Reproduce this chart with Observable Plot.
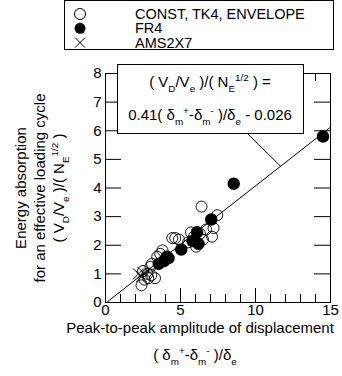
<!DOCTYPE html>
<html><head><meta charset="utf-8">
<script src="https://cdn.jsdelivr.net/npm/d3@7"></script>
<script src="https://cdn.jsdelivr.net/npm/@observablehq/plot@0.6"></script>
<style>
body{margin:0;background:#fff;font-family:"Liberation Sans",Arial,Helvetica,sans-serif;color:#000;}
#wrap{position:relative;width:342px;height:376px;overflow:hidden;background:#fff;}
#wrap svg{position:absolute;left:0;top:0;}
</style></head><body><div id="wrap"></div>
<script>
// ---- data ----
const openX = [2.4, 2.6, 2.85, 3.05, 3.3, 2.5, 2.8, 3.0, 3.1, 3.45, 3.65, 3.8, 4.45, 4.65, 4.9, 5.5, 5.7, 5.9, 6.05, 6.3, 6.5, 6.7, 6.4, 7.1, 7.2, 7.45];
const openY = [0.6, 0.8, 0.85, 0.95, 0.85, 1.1, 1.0, 1.25, 1.35, 1.6, 1.7, 1.82, 2.25, 2.25, 2.2, 2.1, 2.45, 2.3, 1.95, 2.4, 2.2, 2.55, 3.35, 2.3, 2.6, 3.05];
const fr4X = [3.55, 3.9, 4.1, 4.2, 5.05, 5.8, 6.2, 6.1, 7.05, 8.55, 14.5];
const fr4Y = [1.35, 1.45, 1.6, 1.55, 1.85, 2.15, 2.05, 2.45, 2.9, 4.15, 5.8];
const amsX = [2.2, 2.4, 2.5];
const amsY = [1.0, 0.9, 1.05];
const fitSlope = 0.41, fitIntercept = -0.026;
const fitXs = [0.0634, 15];
const leaderFrom = [9.47, 5.9];
const leaderTo = [11.67, 4.76];
const xTickLabels = [0, 5, 10, 15];
const yTickLabels = [0, 1, 2, 3, 4, 5, 6, 7, 8];
const xMinorTicks = [1, 2, 3, 4, 6, 7, 8, 9, 11, 12, 13, 14];
const xMajorTicks = [5, 10];
const yTicks = [1, 2, 3, 4, 5, 6, 7];
const legendLabels = ["CONST, TK4, ENVELOPE", "FR4", "AMS2X7"];

// ---- build ----
const W = 342, H = 376, mL = 105, mR = 12, mT = 73, mB = 74;
const fw = W - mL - mR, fh = H - mT - mB;
const FONT = "Liberation Sans, Arial, Helvetica, sans-serif";
const pts = (xs, ys) => xs.map((x, i) => ({x, y: ys[i]}));
const fitLine = fitXs.map(x => ({x, y: fitSlope * x + fitIntercept}));

const chart = Plot.plot({
  width: W, height: H,
  marginLeft: mL, marginRight: mR, marginTop: mT, marginBottom: mB,
  x: {domain: [0, 15]},
  y: {domain: [0, 8]},
  style: {fontFamily: FONT, fontSize: "15px", color: "#000", background: "transparent"},
  marks: [
    Plot.frame({stroke: "#000", strokeWidth: 1}),
    Plot.tickX(xMinorTicks, {x: d => d, insetTop: fh - 8, stroke: "#000"}),
    Plot.tickX(xMajorTicks, {x: d => d, insetTop: fh - 14, stroke: "#000"}),
    Plot.tickX(xMinorTicks, {x: d => d, insetBottom: fh - 8, stroke: "#000"}),
    Plot.tickX(xMajorTicks, {x: d => d, insetBottom: fh - 14, stroke: "#000"}),
    Plot.tickY(yTicks, {y: d => d, insetRight: fw - 16, stroke: "#000"}),
    Plot.tickY(yTicks, {y: d => d, insetLeft: fw - 16, stroke: "#000"}),
    Plot.axisX({ticks: xTickLabels, tickSize: 0, tickPadding: 2, label: null, fontSize: 15}),
    Plot.axisY({ticks: yTickLabels, tickSize: 0, tickPadding: 4, label: null, fontSize: 15}),
    Plot.line(fitLine, {x: "x", y: "y", stroke: "#000", strokeWidth: 1}),
    Plot.link([0], {x1: () => leaderFrom[0], y1: () => leaderFrom[1], x2: () => leaderTo[0], y2: () => leaderTo[1], stroke: "#000"}),
    Plot.dot(pts(openX, openY), {x: "x", y: "y", r: 5.5, stroke: "#000", fill: "none", strokeWidth: 0.9}),
    Plot.dot(pts(fr4X, fr4Y), {x: "x", y: "y", r: 5.5, fill: "#000", stroke: "#000"}),
    Plot.dot(pts(amsX, amsY), {x: "x", y: "y", r: 5, symbol: "times", stroke: "#000", strokeWidth: 1})
  ]
});
const wrap = document.getElementById("wrap");
wrap.appendChild(chart);

// annotation overlay (legend, equation box, axis titles)
const ov = d3.select(wrap).append("svg").attr("width", W).attr("height", H)
  .attr("font-family", FONT).attr("fill", "#000");

function rich(parent, segs, size) {
  const t = parent.append("text").attr("font-size", size);
  let cur = 0;
  segs.forEach(([s, k]) => {
    const off = k === "sub" ? 0.33 * size : k === "sup" ? -0.42 * size : 0;
    const ts = t.append("tspan").attr("dy", off - cur).text(s);
    if (k) ts.attr("font-size", size * 0.66);
    cur = off;
  });
  return t;
}

// legend
const lg = ov.append("g").attr("transform", "translate(64,0)");
lg.append("rect").attr("x", 0.5).attr("y", 0.5).attr("width", 269).attr("height", 49).attr("fill", "#fff").attr("stroke", "#000");
legendLabels.forEach((label, i) => {
  const cy = 14 + i * 14.3, cx = 16;
  if (i === 0) lg.append("circle").attr("cx", cx).attr("cy", cy).attr("r", 5.5).attr("fill", "none").attr("stroke", "#000");
  if (i === 1) lg.append("circle").attr("cx", cx).attr("cy", cy).attr("r", 5.5).attr("fill", "#000");
  if (i === 2) lg.append("path").attr("d", `M${cx-5},${cy-5}L${cx+5},${cy+5}M${cx+5},${cy-5}L${cx-5},${cy+5}`).attr("stroke", "#000");
  lg.append("text").attr("x", 71).attr("y", cy + 5).attr("font-size", 14.5).text(label);
});

// equation box
const eg = ov.append("g").attr("transform", "translate(117,64)");
eg.append("rect").attr("x", 0.5).attr("y", 0.5).attr("width", 186).attr("height", 69).attr("fill", "#fff").attr("stroke", "#000");
rich(eg, [["( V"], ["D", "sub"], ["/V"], ["e", "sub"], [" )/( N"], ["E", "sub"], ["1/2", "sup"], [" ) ="]], 15)
  .attr("x", 93).attr("y", 23).attr("text-anchor", "middle");
rich(eg, [["0.41( δ"], ["m", "sub"], ["+", "sup"], ["-δ"], ["m", "sub"], ["-", "sup"], [" )/δ"], ["e", "sub"], [" - 0.026"]], 15)
  .attr("x", 93).attr("y", 56).attr("text-anchor", "middle");

// x axis title
ov.append("text").attr("x", 200).attr("y", 333).attr("font-size", 15).attr("text-anchor", "middle")
  .text("Peak-to-peak amplitude of displacement");
rich(ov, [["( δ"], ["m", "sub"], ["+", "sup"], ["-δ"], ["m", "sub"], ["-", "sup"], [" )/δ"], ["e", "sub"]], 15)
  .attr("x", 195).attr("y", 360).attr("text-anchor", "middle");

// y axis title (rotated)
const yTitle = [
  [["Energy absorption"]],
  [["for an effective loading cycle"]],
  [["( V"], ["D", "sub"], ["/V"], ["e", "sub"], [" )/( N"], ["E", "sub"], ["1/2", "sup"], [" )"]]
];
const yTitleX = [26, 45, 64];
yTitle.forEach((segs, i) => {
  rich(ov.append("g").attr("transform", `translate(${yTitleX[i]},188) rotate(-90)`), segs, 15)
    .attr("x", 0).attr("y", 0).attr("text-anchor", "middle");
});
</script>
</body></html>
